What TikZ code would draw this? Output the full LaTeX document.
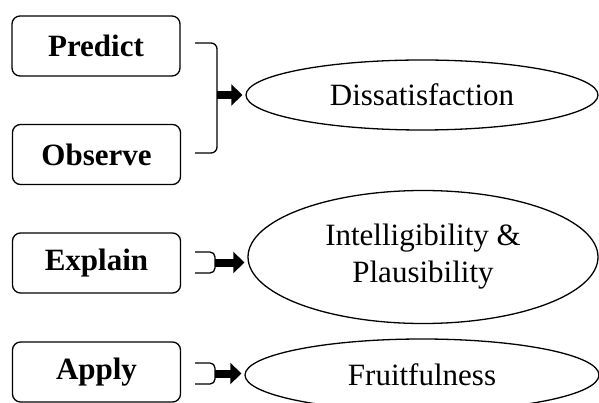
\documentclass[tikz,border=0pt]{standalone}
\usepackage{fontspec}
\setmainfont{Liberation Serif}
\usetikzlibrary{arrows.meta,shapes.geometric}

\begin{document}
\begin{tikzpicture}[x=1pt,y=-1pt]
\tikzstyle{stage}=[rectangle, rounded corners=8pt, minimum width=168pt, minimum height=60pt, inner sep=2pt, draw=black, line width=1.3pt, font=\fontsize{31}{36}\selectfont\bfseries]
\tikzstyle{outcome}=[ellipse, inner sep=0pt, draw=black, line width=1.3pt, align=center, font=\fontsize{31}{37}\selectfont]
\tikzstyle{bracket}=[line width=1.3pt, rounded corners=6pt]
\tikzstyle{push}=[line width=8pt, -{Triangle[length=11pt,width=21pt]}, shorten >=3pt]

\useasboundingbox (0,0) rectangle (599,403);

% Stages
\node[stage] (pre) at (96,46) {Predict};
\node[stage] (obs) at (96.5,154.5) {Observe};
\node[stage] (exp) at (96.5,263) {Explain};
\node[stage] (app) at (96.5,372) {Apply};

% Outcomes
\node[outcome, minimum width=352pt, minimum height=70pt] (dis) at (422,95) {Dissatisfaction};
\node[outcome, minimum width=350pt, minimum height=133pt] (int) at (423,257) {Intelligibility \&\\Plausibility};
\node[outcome, minimum width=354pt, minimum height=72pt] (fru) at (422,375) {Fruitfulness};

% Brackets
\coordinate (b1) at (217,95);
\coordinate (b2) at (215,262.5);
\coordinate (b3) at (215,373.5);
\draw[bracket] (195,43) -- (217,43) -- (217,153) -- (195,153);
\draw[bracket, rounded corners=5pt] (195,252) -- (215,252) -- (215,273) -- (195,273);
\draw[bracket, rounded corners=5pt] (195,363) -- (215,363) -- (215,384) -- (195,384);

% Connect brackets to outcomes
\draw[push] (b1) -- (b1 -| dis.west);
\draw[push] (b2) -- (b2 -| int.west);
\draw[push] (b3) -- (b3 -| fru.west);
\end{tikzpicture}
\end{document}
